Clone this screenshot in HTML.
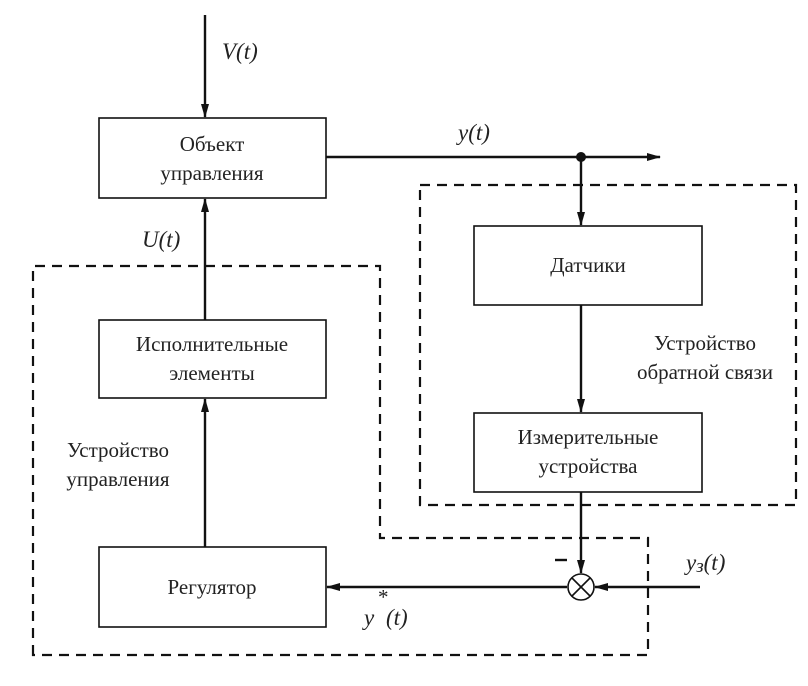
<!DOCTYPE html>
<html><head><meta charset="utf-8"><style>
html,body{margin:0;padding:0;background:#fff}
svg{display:block}
text{font-family:"Liberation Serif",serif;font-size:21px;fill:#222}
.i{font-style:italic;font-size:23px}
</style></head><body>
<svg width="808" height="686" viewBox="0 0 808 686">
<defs><marker id="a" markerWidth="14" markerHeight="8" refX="13" refY="4" orient="auto" markerUnits="userSpaceOnUse"><path d="M0,0 L14,4 L0,8 Z" fill="#111"/></marker></defs>
<rect width="808" height="686" fill="#fff"/>
<g fill="none" stroke="#111" stroke-width="1.6">
<rect x="99" y="118" width="227" height="80"/>
<rect x="99" y="320" width="227" height="78"/>
<rect x="99" y="547" width="227" height="80"/>
<rect x="474" y="226" width="228" height="79"/>
<rect x="474" y="413" width="228" height="79"/>
</g>
<g stroke="#111" stroke-width="2.2" fill="none" stroke-dasharray="10,7">
<path d="M33,655 L33,266 L380,266 L380,538 L648,538 L648,655 Z"/>
<rect x="420" y="185" width="376" height="320"/>
</g>
<g stroke="#111" stroke-width="2.4" fill="none">
<line x1="205" y1="15" x2="205" y2="117" marker-end="url(#a)"/>
<line x1="205" y1="320" x2="205" y2="199" marker-end="url(#a)"/>
<line x1="205" y1="547" x2="205" y2="399" marker-end="url(#a)"/>
<line x1="326" y1="157" x2="660" y2="157" marker-end="url(#a)"/>
<line x1="581" y1="157" x2="581" y2="225" marker-end="url(#a)"/>
<line x1="581" y1="305" x2="581" y2="412" marker-end="url(#a)"/>
<line x1="581" y1="492" x2="581" y2="573" marker-end="url(#a)"/>
<line x1="700" y1="587" x2="595" y2="587" marker-end="url(#a)"/>
<line x1="567" y1="587" x2="327" y2="587" marker-end="url(#a)"/>
<line x1="555" y1="560" x2="567" y2="560"/>
</g>
<circle cx="581" cy="157" r="5" fill="#111"/>
<circle cx="581" cy="587" r="13" fill="#fff" stroke="#111" stroke-width="1.6"/>
<g stroke="#111" stroke-width="1.6"><line x1="572" y1="578" x2="590" y2="596"/><line x1="590" y1="578" x2="572" y2="596"/></g>
<g text-anchor="middle">
<text x="212" y="151">Объект</text><text x="212" y="180">управления</text>
<text x="212" y="351">Исполнительные</text><text x="212" y="380">элементы</text>
<text x="212" y="594">Регулятор</text>
<text x="588" y="272">Датчики</text>
<text x="588" y="444">Измерительные</text><text x="588" y="473">устройства</text>
<text x="705" y="350">Устройство</text><text x="705" y="379">обратной связи</text>
<text x="118" y="457">Устройство</text><text x="118" y="486">управления</text>
</g>
<text class="i" x="222" y="59">V(t)</text>
<text class="i" x="142" y="247">U(t)</text>
<text class="i" x="458" y="140">y(t)</text>
<text class="i" x="686" y="570">y<tspan font-size="19" dy="2">з</tspan><tspan dy="-2">(t)</tspan></text>
<text class="i" x="364" y="625">y</text><text x="378" y="604" font-size="11">*</text><text class="i" x="386" y="625">(t)</text>
</svg>
</body></html>
